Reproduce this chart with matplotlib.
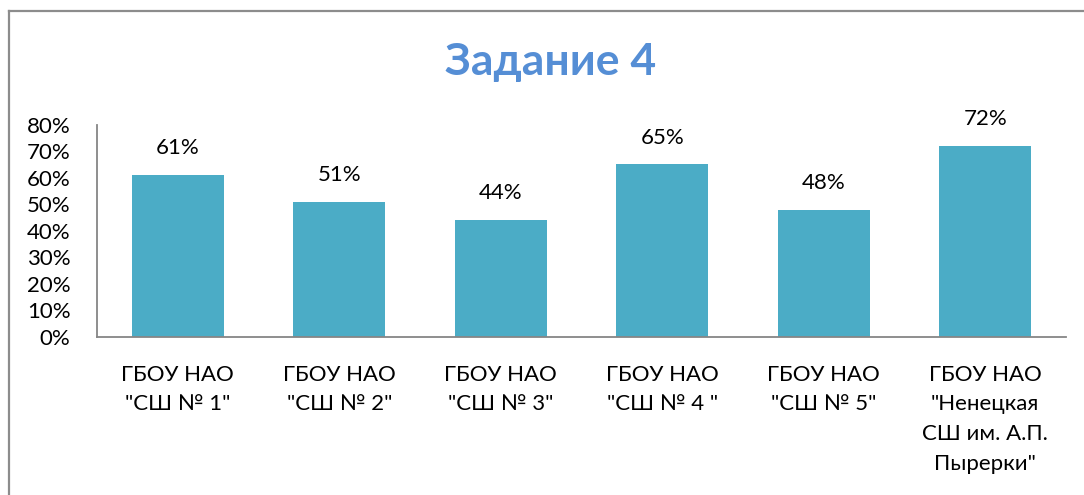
import matplotlib
matplotlib.use("Agg")
import matplotlib.pyplot as plt
from matplotlib.lines import Line2D

categories = ['ГБОУ НАО\n"СШ № 1"', 'ГБОУ НАО\n"СШ № 2"', 'ГБОУ НАО\n"СШ № 3"',
              'ГБОУ НАО\n"СШ № 4 "', 'ГБОУ НАО\n"СШ № 5"',
              'ГБОУ НАО\n"Ненецкая\nСШ им. А.П.\nПырерки"']
values = [0.61, 0.51, 0.44, 0.65, 0.48, 0.72]
yticks = [0, 0.1, 0.2, 0.3, 0.4, 0.5, 0.6, 0.7, 0.8]
ytick_labels = ['0%', '10%', '20%', '30%', '40%', '50%', '60%', '70%', '80%']
title = 'Задание 4'

plt.rcParams['font.family'] = ['Lato', 'DejaVu Sans']

W, H = 1084, 495
fig = plt.figure(figsize=(W / 100, H / 100), dpi=100)
ax = fig.add_axes([97 / W, 1 - 337 / H, (1066 - 97) / W, (337 - 124.5) / H])

x = list(range(len(values)))
bars = ax.bar(x, values, width=0.57, color='#4BACC6')
ax.set_xlim(-0.5, len(values) - 0.5)
ax.set_ylim(0, 0.8)
ax.set_yticks(yticks)
ax.set_yticklabels(ytick_labels, fontsize=16, color='#000000')
ax.set_xticks(x)
ax.set_xticklabels(categories, fontsize=16, linespacing=1.6, color='#000000')
ax.tick_params(axis='both', length=0)
ax.tick_params(axis='x', pad=20)
ax.tick_params(axis='y', pad=19)
for s in ['top', 'right']:
    ax.spines[s].set_visible(False)
for s in ['left', 'bottom']:
    ax.spines[s].set_color('#868686')
    ax.spines[s].set_linewidth(1.3)

for xi, v in zip(x, values):
    ax.annotate(f'{round(v * 100)}%', (xi, v), xytext=(0, 12), textcoords='offset points',
                ha='center', va='bottom', fontsize=16, color='#000000')

fig.text(551 / W, 1 - 62 / H, title, ha='center', va='center', fontsize=32,
         fontweight='bold', color='#558ED5')

fig.add_artist(Line2D([8.5 / W, 8.5 / W], [0, 1 - 11 / H], color='#8C8C8C', lw=1.6))
fig.add_artist(Line2D([8.5 / W, 1], [1 - 11 / H, 1 - 11 / H], color='#8C8C8C', lw=1.6))

fig.savefig('out.png', dpi=100)
